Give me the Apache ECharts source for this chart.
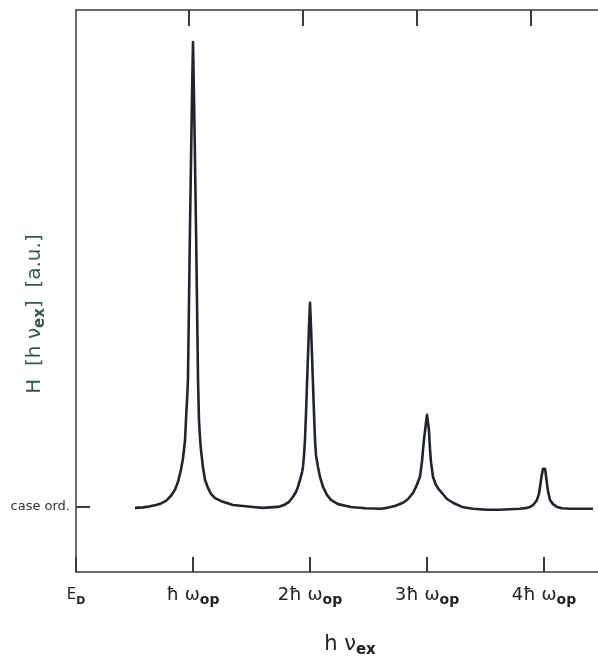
<!DOCTYPE html>
<html>
<head>
    <meta charset="utf-8"/>
    <title>H(hv)</title>
    <script src="https://cdn.jsdelivr.net/npm/echarts@6.0.0/dist/echarts.min.js"></script>
</head>
<body style="margin:0;background:#fff">
<div id="main" style="width: 598px; height: 662px;"></div>
<script type="text/javascript">
    // excitation energy in units of h-bar omega_op
    var hv = [
        0.504, 0.573, 0.624, 0.684, 0.726, 0.769, 0.812, 0.846, 0.872, 0.897, 0.915, 0.932, 0.940, 0.949, 0.957,
        0.966, 0.974, 0.983, 0.991, 1.000, 1.009, 1.017, 1.026, 1.034, 1.043, 1.051, 1.060, 1.068, 1.085, 1.103,
        1.128, 1.154, 1.188, 1.256, 1.342, 1.427, 1.513, 1.598,
        1.658, 1.726, 1.778, 1.821, 1.855, 1.880, 1.897, 1.915, 1.932, 1.940, 1.949, 1.957, 1.966, 1.974, 1.983,
        1.991, 2.000, 2.009, 2.017, 2.026, 2.034, 2.043, 2.051, 2.068, 2.085, 2.111, 2.145, 2.179, 2.239, 2.350,
        2.470, 2.607,
        2.658, 2.726, 2.795, 2.838, 2.880, 2.906, 2.923, 2.940, 2.957, 2.966, 2.974, 2.983, 2.991, 3.000, 3.009,
        3.017, 3.026, 3.034, 3.051, 3.077, 3.103, 3.128, 3.171, 3.222, 3.299, 3.393, 3.513,
        3.624, 3.709, 3.795, 3.855, 3.880, 3.906, 3.923, 3.940, 3.957, 3.966, 3.974, 3.983, 3.991, 4.000, 4.009,
        4.017, 4.026, 4.034, 4.051, 4.077, 4.111, 4.154, 4.222, 4.419];
    // H in arbitrary units, 0 = "case ord."
    var H = [
        -0.2, -0.1, 0.1, 0.4, 0.75, 1.3, 2.4, 3.7, 5.4, 8.0, 10.5, 14.4, 18.7, 23.0, 27.3,
        44.5, 59.6, 74.6, 87.5, 100, 87.5, 74.6, 59.6, 44.5, 27.3, 18.7, 14.8, 12.3, 8.6, 5.8,
        4.1, 2.8, 1.9, 1.1, 0.4, 0.2, 0, -0.2,
        -0.1, 0, 0.4, 1.1, 2.2, 3.2, 4.3, 5.8, 7.5, 8.6, 11.2, 14.4, 20.2, 26.2, 32.7,
        38.5, 43.9, 38.5, 32.7, 26.2, 20.2, 14.4, 11.2, 8.6, 6.5, 4.3, 2.6, 1.5, 0.6, 0,
        -0.3, -0.4,
        -0.2, 0.2, 0.9, 1.7, 3.0, 4.3, 5.4, 6.5, 9.7, 12.3, 14.4, 16.3, 18.1, 19.8, 18.1,
        16.3, 12.3, 9.7, 6.5, 4.7, 3.7, 3.0, 1.7, 0.9, 0, -0.4, -0.6,
        -0.6, -0.5, -0.4, -0.2, 0, 0.4, 0.9, 1.5, 2.8, 4.3, 5.8, 7.1, 8.2, 8.6, 8.2,
        6.7, 4.9, 3.4, 1.5, 0.6, 0, -0.3, -0.4, -0.4];

    var tickMain = ['E', 'ħ ω', '2ħ ω', '3ħ ω', '4ħ ω'];
    var tickSub = ['D', 'op', 'op', 'op', 'op'];

    var chart = echarts.init(document.getElementById('main'));
    var ink = '#1f2431';
    var axisCol = '#3a3a3a';
    var font = 'DejaVu Sans';

    var option = {
        backgroundColor: '#fff',
        animation: false,
        grid: {left: 76, top: 10, right: -10, bottom: 90, containLabel: false, outerBoundsMode: 'none'},
        xAxis: [
            {
                type: 'value',
                position: 'bottom',
                min: 0,
                max: 4.547,
                interval: 1,
                splitLine: {show: false},
                axisLine: {onZero: false, lineStyle: {color: axisCol, width: 1.5}},
                axisTick: {inside: true, length: 15, lineStyle: {color: axisCol, width: 2}},
                axisLabel: {
                    margin: 11,
                    formatter: function (v) {
                        var i = Math.round(v);
                        if (i > 4) return '';
                        return (i === 0 ? '{e|' : '{m|') + tickMain[i] + '}' + (i === 0 ? '{d|' : '{s|') + tickSub[i] + '}';
                    },
                    rich: {
                        m: {fontFamily: font, fontSize: 18, color: '#222', lineHeight: 24, verticalAlign: 'middle'},
                        s: {fontFamily: font, fontSize: 14, fontWeight: 'bold', color: '#222', lineHeight: 16, verticalAlign: 'bottom'},
                        e: {fontFamily: font, fontSize: 15, color: '#222', lineHeight: 24, verticalAlign: 'middle'},
                        d: {fontFamily: font, fontSize: 11, fontWeight: 'bold', color: '#222', lineHeight: 14, verticalAlign: 'bottom'}
                    }
                },
                name: '{h|h ν}{x|ex}',
                nameLocation: 'middle',
                nameGap: 60,
                nameMoveOverlap: false,
                nameTextStyle: {
                    padding: [0, 0, 0, 16],
                    rich: {
                        h: {fontFamily: font, fontSize: 21, color: '#222', lineHeight: 26, verticalAlign: 'middle'},
                        x: {fontFamily: font, fontSize: 15, fontWeight: 'bold', color: '#222', lineHeight: 18, verticalAlign: 'bottom'}
                    }
                }
            },
            {
                type: 'value',
                position: 'top',
                min: 0.016,
                max: 4.678,
                splitLine: {show: false},
                axisLine: {onZero: false, lineStyle: {color: axisCol, width: 1.5}},
                axisTick: {inside: true, length: 16, customValues: [1, 2, 3, 4], lineStyle: {color: axisCol, width: 2}},
                axisLabel: {show: false}
            }
        ],
        yAxis: {
            type: 'value',
            min: -14,
            max: 106.9,
            splitLine: {show: false},
            axisLine: {show: true, onZero: false, lineStyle: {color: axisCol, width: 1.5}},
            axisTick: {show: true, inside: true, length: 14, customValues: [0], lineStyle: {color: axisCol, width: 2}},
            axisLabel: {
                customValues: [0],
                margin: 6,
                formatter: function () { return 'case ord.'; },
                fontFamily: font,
                fontSize: 13,
                color: '#333'
            },
            name: '{h|H  [h ν}{x|ex}{h|]  [a.u.]}',
            nameLocation: 'middle',
            nameGap: 28,
            nameMoveOverlap: false,
            nameTextStyle: {
                padding: [0, 46, 0, 0],
                rich: {
                    h: {fontFamily: font, fontSize: 20, color: '#2f5d45', lineHeight: 26, verticalAlign: 'middle'},
                    x: {fontFamily: font, fontSize: 15, fontWeight: 'bold', color: '#2f5d45', lineHeight: 18, verticalAlign: 'bottom'}
                }
            }
        },
        series: [
            {
                type: 'line',
                xAxisIndex: 0,
                data: hv.map(function (v, i) { return [v, H[i]]; }),
                showSymbol: false,
                smooth: false,
                lineStyle: {color: ink, width: 2.6, join: 'round'}
            }
        ]
    };

    chart.setOption(option);
</script>
</body>
</html>
